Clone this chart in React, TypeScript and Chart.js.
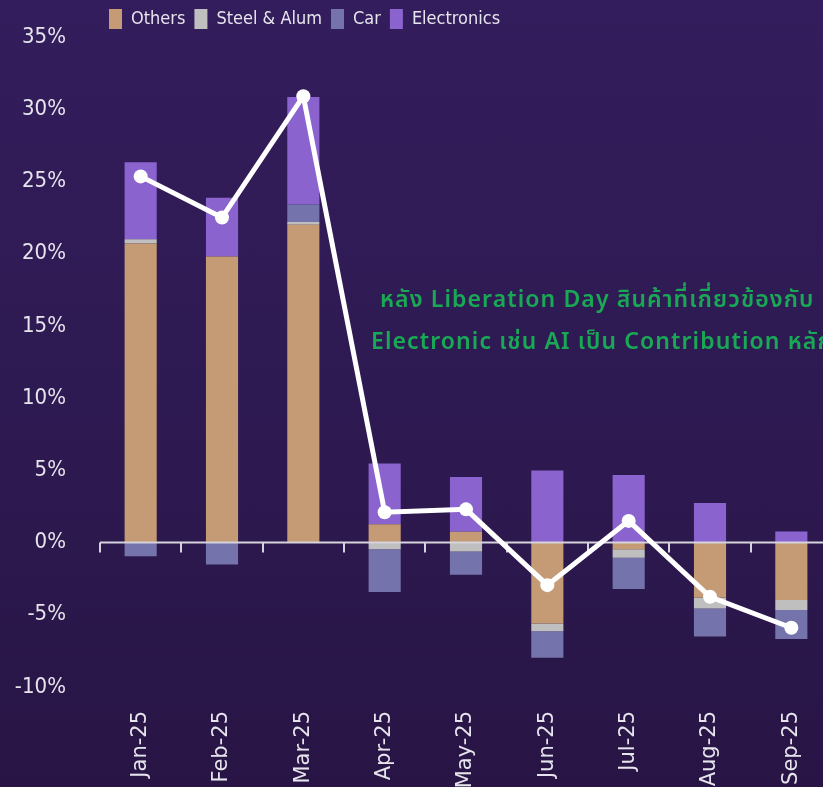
import React, { useEffect, useRef } from "react";
import { Chart, registerables } from "chart.js";

Chart.register(...registerables);

const categories = ["Jan-25", "Feb-25", "Mar-25", "Apr-25", "May-25", "Jun-25", "Jul-25", "Aug-25", "Sep-25"];
const others = [20.7, 19.8, 22.0, 1.26, 0.74, -5.61, -0.47, -3.82, -3.98];
const steelAlum = [0.3, 0.0, 0.2, -0.47, -0.62, -0.53, -0.58, -0.74, -0.69];
const car = [-0.94, -1.52, 1.2, -2.96, -1.61, -1.84, -2.16, -1.95, -2.0];
const electronics = [5.33, 4.07, 7.45, 4.21, 3.79, 4.99, 4.67, 2.74, 0.76];
const total = [25.35, 22.5, 30.9, 2.1, 2.3, -2.95, 1.5, -3.75, -5.9];

const yMin = -10;
const yMax = 35;
const yStep = 5;

const annotationLines = [
  "หลัง Liberation Day สินค้าที่เกี่ยวข้องกับ",
  "Electronic เช่น AI เป็น Contribution หลัก",
];

const CANVAS_W = 860;
const CANVAS_H = 830;
const NARROW = "'Liberation Sans Narrow', 'DejaVu Sans Condensed', 'DejaVu Sans', sans-serif";

const zeroLinePlugin = {
  id: "zeroLine",
  beforeDatasetDraw(chart: any, args: any) {
    if (args.meta.type !== "line") return;
    const { ctx, chartArea } = chart;
    const x = chart.scales.x;
    const y = chart.scales.y;
    const y0 = y.getPixelForValue(0);
    ctx.save();
    ctx.strokeStyle = "#d6d3dc";
    ctx.lineWidth = 2;
    ctx.beginPath();
    ctx.moveTo(chartArea.left, y0);
    ctx.lineTo(chartArea.right, y0);
    for (let i = 0; i <= categories.length; i++) {
      const px = Math.round(x.getPixelForValue(i - 0.5));
      ctx.moveTo(px, y0);
      ctx.lineTo(px, y0 + 10);
    }
    ctx.stroke();
    ctx.restore();
  },
};

const annotationPlugin = {
  id: "annotationText",
  afterDraw(chart: any) {
    const { ctx } = chart;
    ctx.save();
    ctx.fillStyle = "#19a955";
    ctx.font = "600 23px 'Noto Sans', 'Noto Sans Thai', 'Loma', sans-serif";
    try {
      (ctx as any).letterSpacing = "1.1px";
    } catch (e) {}
    ctx.textAlign = "left";
    ctx.textBaseline = "middle";
    ctx.fillText(annotationLines[0], 380, 300);
    ctx.fillText(annotationLines[1], 371, 342);
    ctx.restore();
  },
};

export default function App() {
  const ref = useRef<HTMLCanvasElement | null>(null);

  useEffect(() => {
    if (!ref.current) return;
    const chart = new Chart(ref.current, {
      type: "bar",
      data: {
        labels: categories,
        datasets: [
          { type: "bar", label: "Others", data: others, backgroundColor: "#c49b74", order: 1 },
          { type: "bar", label: "Steel & Alum", data: steelAlum, backgroundColor: "#bfbfbf", order: 1 },
          { type: "bar", label: "Car", data: car, backgroundColor: "#7473ab", order: 1 },
          { type: "bar", label: "Electronics", data: electronics, backgroundColor: "#8b63cf", order: 1 },
          {
            type: "line",
            label: "Total",
            data: total,
            borderColor: "#ffffff",
            backgroundColor: "#ffffff",
            borderWidth: 5,
            pointRadius: 7,
            pointBorderWidth: 0,
            pointBackgroundColor: "#ffffff",
            tension: 0,
            order: 0,
          } as any,
        ],
      },
      options: {
        responsive: false,
        animation: false,
        devicePixelRatio: 1,
        layout: { padding: { left: 0, right: CANVAS_W - 832, top: 0, bottom: 0 } },
        datasets: {
          bar: { categoryPercentage: 1, barPercentage: 0.395, borderWidth: 0 },
        },
        plugins: {
          tooltip: { enabled: false },
          legend: {
            position: "top",
            align: "start",
            fullSize: false,
            maxHeight: 37,
            labels: {
              boxWidth: 13,
              boxHeight: 20,
              padding: 9,
              color: "#e6e4ec",
              font: { family: NARROW, size: 18 },
              filter: (item: any) => item.text !== "Total",
            },
          },
        },
        scales: {
          x: {
            stacked: true,
            offset: true,
            grid: { display: false, drawTicks: false },
            border: { display: false },
            ticks: {
              color: "#e6e4ec",
              font: { family: "'DejaVu Sans', sans-serif", size: 21 },
              minRotation: 90,
              maxRotation: 90,
              padding: 24,
              autoSkip: false,
            },
            afterFit: (scale: any) => {
              scale.height = CANVAS_H - 687;
            },
          },
          y: {
            stacked: true,
            min: yMin,
            max: yMax,
            grid: { display: false, drawTicks: false },
            border: { display: false },
            ticks: {
              stepSize: yStep,
              color: "#e6e4ec",
              font: { family: NARROW, size: 22 },
              padding: 34,
              callback: (v: any) => `${v}%`,
            },
            afterFit: (scale: any) => {
              scale.width = 100;
              scale.paddingTop = 13;
              scale.paddingBottom = 13;
            },
          },
        },
      },
      plugins: [zeroLinePlugin, annotationPlugin],
    });
    return () => chart.destroy();
  }, []);

  return (
    <div
      style={{
        position: "fixed",
        left: 0,
        top: 0,
        width: 823,
        height: 787,
        overflow: "hidden",
        background: "linear-gradient(180deg, #331d5c 0%, #2e1a52 50%, #281545 100%)",
      }}
    >
      <canvas ref={ref} width={CANVAS_W} height={CANVAS_H} style={{ display: "block" }} />
    </div>
  );
}
